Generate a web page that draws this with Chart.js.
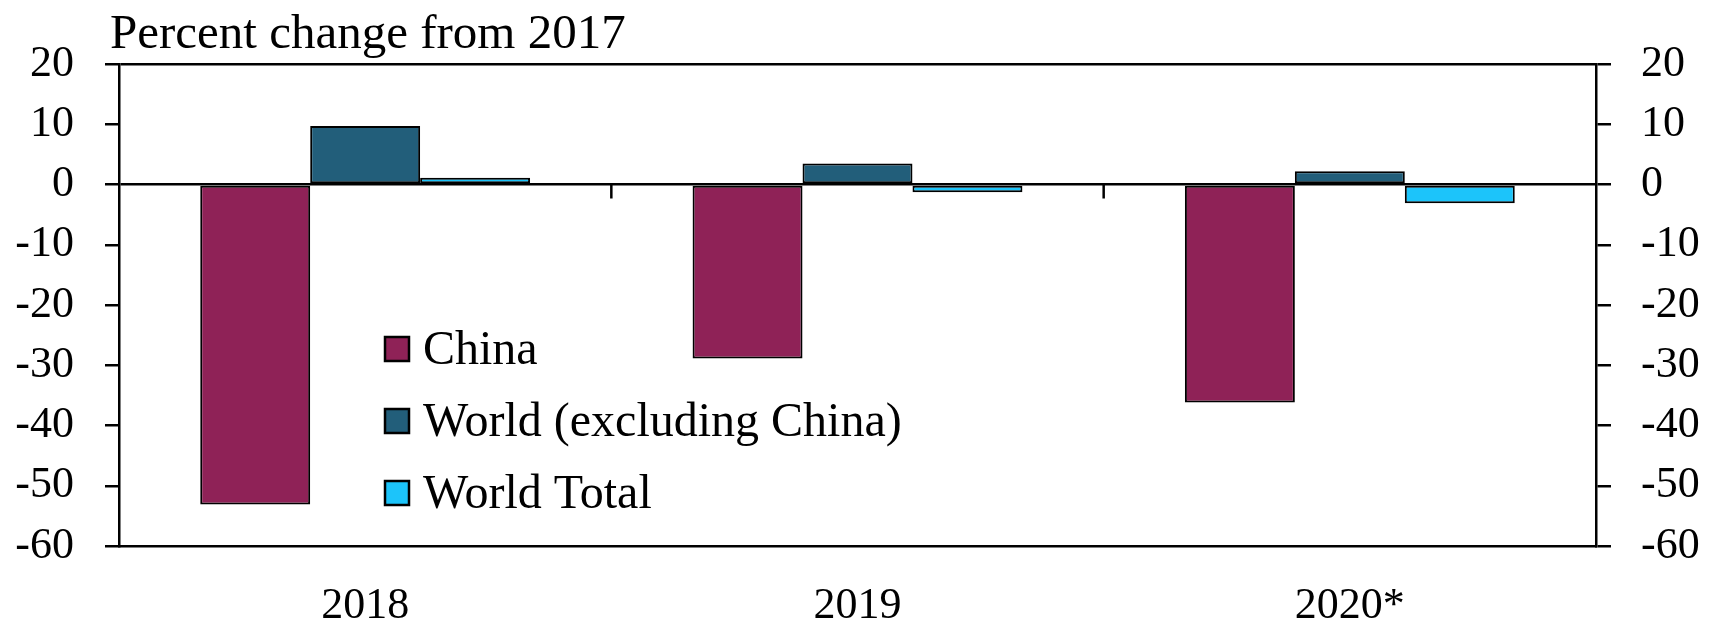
<!DOCTYPE html>
<html>
<head>
<meta charset="utf-8">
<title>Percent change from 2017</title>
<script src="https://cdn.jsdelivr.net/npm/chart.js@4.4.1/dist/chart.umd.min.js"></script>
<style>
    html, body { margin: 0; padding: 0; background: #fff; }
    #wrap { width: 1723px; height: 625px; position: relative; }
</style>
</head>
<body>
<div id="wrap"><canvas id="chart"></canvas></div>
<script>
// data
const categories = ['2018', '2019', '2020*'];
const chinaValues = [-53.1, -28.9, -36.2];
const worldExChinaValues = [9.7, 3.5, 2.2];
const worldTotalValues = [1.1, -1.3, -3.1];
const yTicks = [20, 10, 0, -10, -20, -30, -40, -50, -60];
const titleText = 'Percent change from 2017';

const SERIF = '"Liberation Serif", "DejaVu Serif", serif';
const AXIS_LINE = 2.5;
const BAR_LINE = 2;

// title above the plot, left of the axis
const titlePlugin = {
    id: 'topTitle',
    afterDraw(chart) {
        const ctx = chart.ctx;
        const area = chart.chartArea;
        ctx.save();
        ctx.font = '49px ' + SERIF;
        ctx.fillStyle = '#000';
        ctx.textBaseline = 'alphabetic';
        ctx.textAlign = 'left';
        ctx.fillText(titleText, area.left - 9, area.top - 16);
        ctx.restore();
    }
};

// little tick marks between categories, hanging from the zero line
const dividerPlugin = {
    id: 'dividers',
    afterDatasetsDraw(chart) {
        const ctx = chart.ctx;
        const x = chart.scales.x;
        const y0 = chart.scales.y.getPixelForValue(0);
        ctx.save();
        ctx.strokeStyle = '#000';
        ctx.lineWidth = AXIS_LINE;
        for (let i = 1; i < categories.length; i++) {
            const px = (x.getPixelForValue(i - 1) + x.getPixelForValue(i)) / 2;
            ctx.beginPath();
            ctx.moveTo(px, y0);
            ctx.lineTo(px, y0 + 14);
            ctx.stroke();
        }
        ctx.restore();
    }
};

// legend drawn inside the plot area
const innerLegendPlugin = {
    id: 'innerLegend',
    afterDraw(chart) {
        const ctx = chart.ctx;
        const left = 385;
        const firstY = 349;
        const step = 72;
        const box = 24;
        ctx.save();
        ctx.font = '48px ' + SERIF;
        ctx.textBaseline = 'middle';
        ctx.textAlign = 'left';
        chart.data.datasets.forEach((ds, i) => {
            const cy = firstY + i * step;
            ctx.fillStyle = ds.backgroundColor;
            ctx.fillRect(left, cy - box / 2, box, box);
            ctx.strokeStyle = '#000';
            ctx.lineWidth = AXIS_LINE;
            ctx.strokeRect(left, cy - box / 2, box, box);
            ctx.fillStyle = '#000';
            ctx.fillText(ds.label, left + box + 14, cy + 2);
        });
        ctx.restore();
    }
};

const ctx = document.getElementById('chart');
new Chart(ctx, {
    type: 'bar',
    data: {
        labels: categories,
        datasets: [
            {
                label: 'China',
                data: chinaValues,
                backgroundColor: '#8F2257',
                borderColor: '#000',
                borderWidth: BAR_LINE,
                borderSkipped: false
            },
            {
                label: 'World (excluding China)',
                data: worldExChinaValues,
                backgroundColor: '#225E7A',
                borderColor: '#000',
                borderWidth: BAR_LINE,
                borderSkipped: false
            },
            {
                label: 'World Total',
                data: worldTotalValues,
                backgroundColor: '#1CC4FA',
                borderColor: '#000',
                borderWidth: BAR_LINE,
                borderSkipped: false
            }
        ]
    },
    options: {
        responsive: true,
        maintainAspectRatio: false,
        animation: false,
        layout: { padding: { top: 64, left: 0, right: 0, bottom: 0 } },
        categoryPercentage: 0.67,
        barPercentage: 1.0,
        plugins: {
            legend: { display: false },
            tooltip: { enabled: false },
            title: { display: false }
        },
        scales: {
            x: {
                position: 'bottom',
                grid: { display: false },
                border: { display: true, color: '#000', width: AXIS_LINE },
                ticks: {
                    color: '#000',
                    font: { family: SERIF, size: 44 },
                    padding: 26,
                    maxRotation: 0
                },
                afterFit(scale) { scale.height = 79; }
            },
            y: {
                position: 'left',
                min: -60,
                max: 20,
                afterBuildTicks(scale) {
                    scale.ticks = yTicks.map(v => ({ value: v }));
                },
                grid: {
                    drawOnChartArea: true,
                    color: (c) => (c.tick && (c.tick.value === 0 || c.tick.value === 20)) ? '#000' : 'rgba(0,0,0,0)',
                    lineWidth: AXIS_LINE,
                    tickColor: '#000',
                    tickLength: 14
                },
                border: { display: true, color: '#000', width: AXIS_LINE },
                ticks: {
                    color: '#000',
                    font: { family: SERIF, size: 44 },
                    padding: 31
                },
                afterFit(scale) { scale.width = 119; }
            },
            y2: {
                position: 'right',
                min: -60,
                max: 20,
                afterBuildTicks(scale) {
                    scale.ticks = yTicks.map(v => ({ value: v }));
                },
                grid: {
                    drawOnChartArea: false,
                    lineWidth: AXIS_LINE,
                    tickColor: '#000',
                    tickLength: 15
                },
                border: { display: true, color: '#000', width: AXIS_LINE },
                ticks: {
                    color: '#000',
                    font: { family: SERIF, size: 44 },
                    padding: 30
                },
                afterFit(scale) { scale.width = 127; }
            }
        }
    },
    plugins: [titlePlugin, dividerPlugin, innerLegendPlugin]
});
</script>
</body>
</html>
